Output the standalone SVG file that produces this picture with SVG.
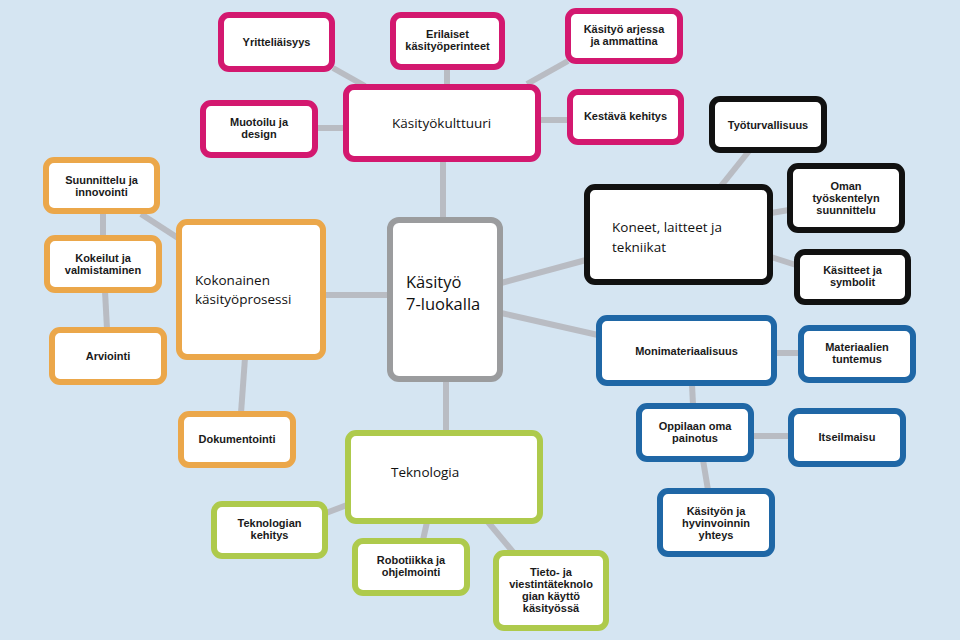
<svg xmlns="http://www.w3.org/2000/svg" width="960" height="640" viewBox="0 0 960 640">
<style>
.bg{fill:#d5e5f2}
.n rect{fill:#fff;stroke-width:6}
.m rect{stroke:#d3186f}
.o rect{stroke:#eba74a}
.k rect{stroke:#111}
.b rect{stroke:#1f67a6}
.g rect{stroke:#aeca4c}
.c rect{stroke:#9b9c9e}
.s{font-family:"Liberation Sans",Arial,sans-serif;font-weight:bold;font-size:11px;fill:#1a1a1a;text-anchor:middle}
.t{font-family:"Open Sans","Liberation Sans",sans-serif;font-size:13.5px;fill:#111}
#conn line{stroke:#b9bcc3;stroke-width:6;stroke-linecap:butt}
</style>
<rect class="bg" x="0" y="0" width="960" height="640"/>
<g id="conn">
<line x1="333" y1="68" x2="365" y2="86"/>
<line x1="447" y1="69" x2="447" y2="86"/>
<line x1="527" y1="84" x2="568" y2="61"/>
<line x1="316" y1="128" x2="345" y2="128"/>
<line x1="539" y1="120" x2="569" y2="120"/>
<line x1="443" y1="160" x2="443" y2="219"/>
<line x1="324" y1="295" x2="389" y2="295"/>
<line x1="446" y1="380" x2="446" y2="432"/>
<line x1="501" y1="283" x2="586" y2="260"/>
<line x1="501" y1="313" x2="598" y2="335"/>
<line x1="721" y1="186" x2="749" y2="151"/>
<line x1="771" y1="213" x2="789" y2="210"/>
<line x1="771" y1="257" x2="796" y2="265"/>
<line x1="141" y1="214" x2="178" y2="238"/>
<line x1="103" y1="212" x2="103" y2="237"/>
<line x1="105" y1="291" x2="107" y2="329"/>
<line x1="245" y1="358" x2="241" y2="413"/>
<line x1="326" y1="513" x2="347" y2="505"/>
<line x1="427" y1="522" x2="423" y2="540"/>
<line x1="488" y1="522" x2="513" y2="552"/>
<line x1="775" y1="353" x2="800" y2="353"/>
<line x1="692" y1="384" x2="693" y2="405"/>
<line x1="752" y1="436" x2="790" y2="436"/>
<line x1="703" y1="460" x2="708" y2="490"/>
</g>
<g id="n-yrit" class="n m"><rect x="221" y="15" width="111" height="54" rx="8"/><text class="s" x="276.5" y="46">Yritteliäisyys</text></g>
<g id="n-eril" class="n m"><rect x="393" y="15" width="109" height="52" rx="8"/><text class="s" x="447.5" y="38">Erilaiset</text><text class="s" x="447.5" y="50">käsityöperinteet</text></g>
<g id="n-arje" class="n m"><rect x="568" y="11" width="112" height="50" rx="8"/><text class="s" x="624" y="33">Käsityö arjessa</text><text class="s" x="624" y="45">ja ammattina</text></g>
<g id="n-muot" class="n m"><rect x="203" y="103" width="112" height="52" rx="8"/><text class="s" x="259" y="126">Muotoilu ja</text><text class="s" x="259" y="138">design</text></g>
<g id="n-kult" class="n m"><rect x="346" y="87" width="192" height="72" rx="8"/><text class="t" x="392" y="128">Käsityökulttuuri</text></g>
<g id="n-kest" class="n m"><rect x="570" y="92" width="111" height="50" rx="8"/><text class="s" x="625.5" y="120">Kestävä kehitys</text></g>
<g id="n-tyot" class="n k"><rect x="712" y="99" width="112" height="51" rx="8"/><text class="s" x="768" y="129">Työturvallisuus</text></g>
<g id="n-oman" class="n k"><rect x="790" y="166" width="112" height="64" rx="8"/><text class="s" x="846" y="190">Oman</text><text class="s" x="846" y="202">työskentelyn</text><text class="s" x="846" y="214">suunnittelu</text></g>
<g id="n-kone" class="n k"><rect x="587" y="187" width="183" height="95" rx="8"/><text class="t" x="612" y="232">Koneet, laitteet ja</text><text class="t" x="612" y="252">tekniikat</text></g>
<g id="n-kasi" class="n k"><rect x="797" y="252" width="111" height="50" rx="8"/><text class="s" x="852.5" y="274">Käsitteet ja</text><text class="s" x="852.5" y="286">symbolit</text></g>
<g id="n-center" class="n c"><rect x="390" y="220" width="110" height="159" rx="9"/><text class="t" x="406" y="288" style="font-size:16.5px">Käsityö</text><text class="t" x="406" y="310" style="font-size:16.5px">7-luokalla</text></g>
<g id="n-koko" class="n o"><rect x="179" y="222" width="144" height="135" rx="8"/><text class="t" x="195" y="285">Kokonainen</text><text class="t" x="195" y="304">käsityöprosessi</text></g>
<g id="n-suun" class="n o"><rect x="46" y="160" width="111" height="51" rx="8"/><text class="s" x="101.5" y="184">Suunnittelu ja</text><text class="s" x="101.5" y="196">innovointi</text></g>
<g id="n-koke" class="n o"><rect x="47" y="238" width="112" height="52" rx="8"/><text class="s" x="103" y="262">Kokeilut ja</text><text class="s" x="103" y="274">valmistaminen</text></g>
<g id="n-arvi" class="n o"><rect x="52" y="330" width="112" height="52" rx="8"/><text class="s" x="108" y="360">Arviointi</text></g>
<g id="n-doku" class="n o"><rect x="181" y="414" width="112" height="51" rx="8"/><text class="s" x="237" y="443">Dokumentointi</text></g>
<g id="n-tekn" class="n g"><rect x="348" y="433" width="192" height="88" rx="8"/><text class="t" x="391" y="477">Teknologia</text></g>
<g id="n-tkeh" class="n g"><rect x="214" y="504" width="111" height="52" rx="8"/><text class="s" x="269.5" y="527">Teknologian</text><text class="s" x="269.5" y="539">kehitys</text></g>
<g id="n-robo" class="n g"><rect x="355" y="541" width="112" height="52" rx="8"/><text class="s" x="411" y="564">Robotiikka ja</text><text class="s" x="411" y="576">ohjelmointi</text></g>
<g id="n-tvt" class="n g"><rect x="496" y="553" width="110" height="75" rx="8"/><text class="s" x="551" y="576">Tieto- ja</text><text class="s" x="551" y="588">viestintäteknolo</text><text class="s" x="551" y="600">gian käyttö</text><text class="s" x="551" y="612">käsityössä</text></g>
<g id="n-moni" class="n b"><rect x="599" y="318" width="175" height="65" rx="8"/><text class="s" x="686.5" y="355">Monimateriaalisuus</text></g>
<g id="n-mate" class="n b"><rect x="801" y="328" width="112" height="52" rx="8"/><text class="s" x="857" y="351">Materiaalien</text><text class="s" x="857" y="363">tuntemus</text></g>
<g id="n-oppi" class="n b"><rect x="639" y="406" width="112" height="53" rx="8"/><text class="s" x="695" y="430">Oppilaan oma</text><text class="s" x="695" y="442">painotus</text></g>
<g id="n-itse" class="n b"><rect x="791" y="411" width="112" height="53" rx="8"/><text class="s" x="847" y="441">Itseilmaisu</text></g>
<g id="n-hyvi" class="n b"><rect x="660" y="491" width="112" height="63" rx="8"/><text class="s" x="716" y="515">Käsityön ja</text><text class="s" x="716" y="527">hyvinvoinnin</text><text class="s" x="716" y="539">yhteys</text></g>
</svg>
